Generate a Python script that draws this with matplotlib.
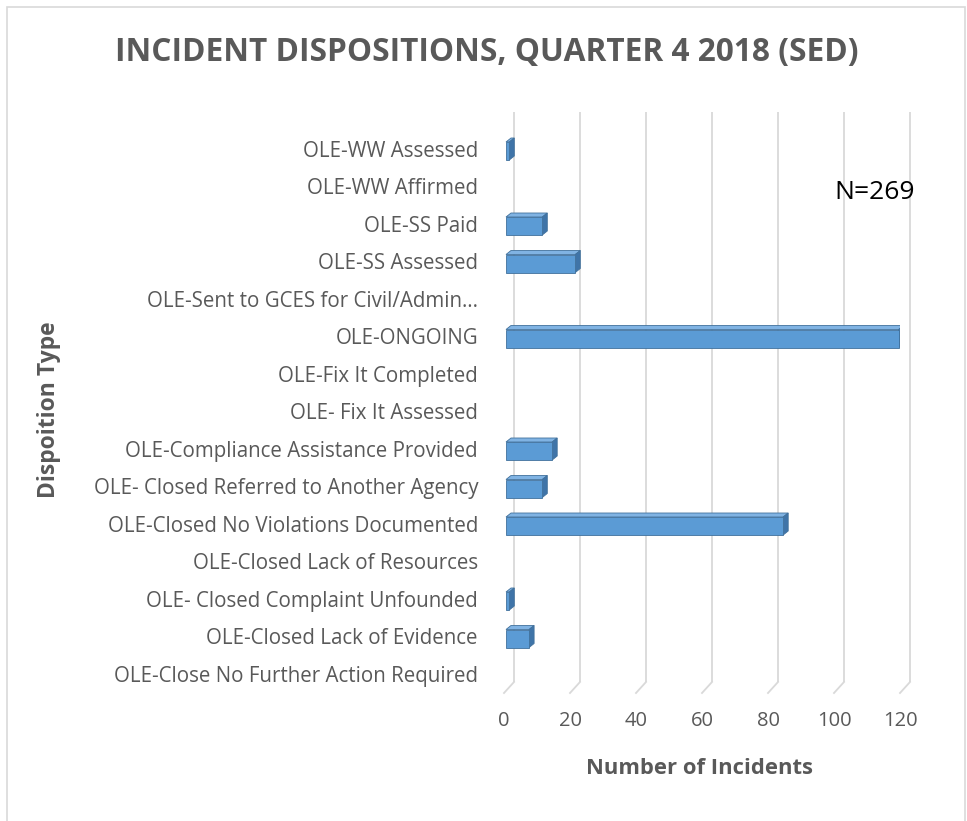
import matplotlib
matplotlib.use("Agg")
import matplotlib.pyplot as plt
from matplotlib.patches import Polygon, Rectangle
import numpy as np

categories = [
    "OLE-WW Assessed",
    "OLE-WW Affirmed",
    "OLE-SS Paid",
    "OLE-SS Assessed",
    "OLE-Sent to GCES for Civil/Admin\u2026",
    "OLE-ONGOING",
    "OLE-Fix It Completed",
    "OLE- Fix It Assessed",
    "OLE-Compliance Assistance Provided",
    "OLE- Closed Referred to Another Agency",
    "OLE-Closed No Violations Documented",
    "OLE-Closed Lack of Resources",
    "OLE- Closed Complaint Unfounded",
    "OLE-Closed Lack of Evidence",
    "OLE-Close No Further Action Required",
]
values = [1, 0, 11, 21, 0, 119, 0, 0, 14, 11, 84, 0, 1, 7, 0]
xticks = [0, 20, 40, 60, 80, 100, 120]

title = "INCIDENT DISPOSITIONS, QUARTER 4 2018 (SED)"
xlabel = "Number of Incidents"
ylabel = "Dispoition Type"
note = "N=269"

FONT = "Open Sans"
GRAY = "#595959"
W, H = 967, 821
fig = plt.figure(figsize=(W / 100, H / 100), dpi=100)

# chart border
fig.patches.append(Rectangle((7 / W, -0.01), (958) / W, (H - 7) / H + 0.01,
                             transform=fig.transFigure, fill=False,
                             edgecolor="#D9D9D9", linewidth=1.2))

left_px, right_px = 504, 900
top_px, bot_px = 112, 693
ax = fig.add_axes([left_px / W, 1 - bot_px / H, (right_px - left_px) / W, (bot_px - top_px) / H])
n = len(categories)
row_px = 37.5
first_row_px = 151
ytop = -(first_row_px - top_px) / row_px
ybot = (n - 1) + (bot_px - (first_row_px + (n - 1) * row_px)) / row_px
ax.set_xlim(0, 120)
ax.set_ylim(ybot, ytop)
ax.axis("off")

pxx = (right_px - left_px) / 120.0
depth_dx = 10 / pxx
depth_dy = 11 / row_px
floor_back = ybot - depth_dy

for t in xticks:
    ax.plot([t + depth_dx, t + depth_dx], [floor_back, ytop], color="#D9D9D9", lw=1.3,
            solid_capstyle="butt", zorder=1, clip_on=False)
    ax.plot([t, t + depth_dx], [ybot, floor_back], color="#D9D9D9", lw=1.3, zorder=1, clip_on=False)
    ax.text(t, ybot + 28 / row_px, str(t), ha="center", va="center", fontsize=14.5,
            family=FONT, color=GRAY)

bar_h = 18 / row_px
bx0 = 2 / pxx
sdx = 5 / pxx
sdy = 4 / row_px
front = "#5B9BD5"
side = "#3F74A8"
topc = "#80B3E3"
edge = "#41719C"
ys = np.arange(n)
for y, v in zip(ys, values):
    if v <= 0:
        continue
    x1 = bx0 + v
    yt = y - bar_h / 2
    yb = y + bar_h / 2
    ax.add_patch(Polygon([(bx0, yt), (x1, yt), (x1 + sdx, yt - sdy), (bx0 + sdx, yt - sdy)],
                         closed=True, facecolor=topc, edgecolor=edge, lw=0.6, zorder=3))
    ax.add_patch(Polygon([(x1, yt), (x1 + sdx, yt - sdy), (x1 + sdx, yb - sdy), (x1, yb)],
                         closed=True, facecolor=side, edgecolor=edge, lw=0.6, zorder=3))
bars = ax.barh(ys, values, left=bx0, height=bar_h, color=front, edgecolor=edge, linewidth=0.6, zorder=4)
for p, v in zip(bars.patches, values):
    if v <= 0:
        p.set_visible(False)

for y, c in zip(ys, categories):
    ax.text(-(left_px - 478) / pxx, y, c, ha="right", va="center", fontsize=14.8,
            family=FONT, color=GRAY, clip_on=False)

fig.text(487 / W, 1 - 52 / H, title, ha="center", va="center", fontsize=22.8,
         family=FONT, fontweight="bold", color=GRAY)
fig.text(700 / W, 1 - 768 / H, xlabel, ha="center", va="center", fontsize=15.8,
         family=FONT, fontweight="bold", color=GRAY)
fig.text(49 / W, 1 - 410 / H, ylabel, ha="center", va="center", fontsize=16.5, rotation=90,
         family=FONT, fontweight="bold", color=GRAY)
fig.text(875 / W, 1 - 192 / H, note, ha="center", va="center", fontsize=19,
         family=FONT, color="black")

fig.savefig("out.png", dpi=100)
